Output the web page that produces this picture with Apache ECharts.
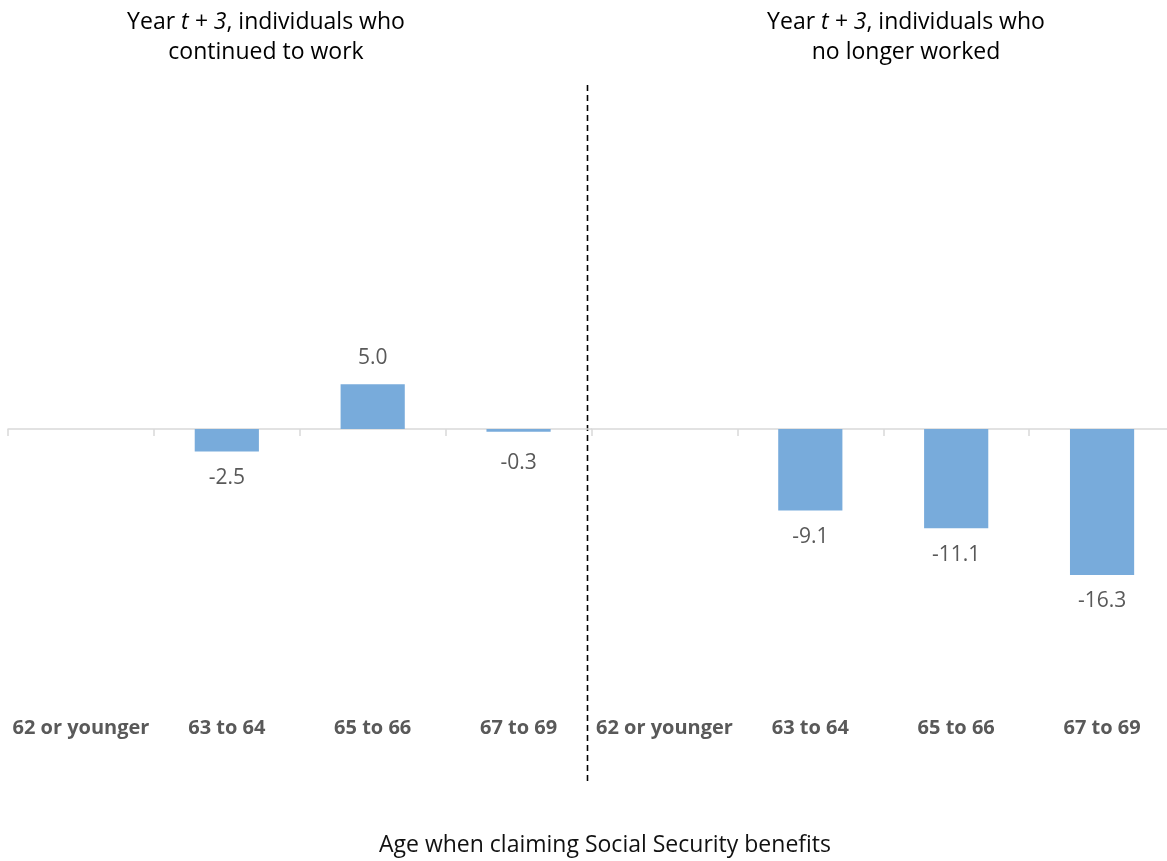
<!DOCTYPE html>
<html>
<head>
<meta charset="utf-8">
<script src="https://cdn.jsdelivr.net/npm/echarts@6/dist/echarts.min.js"></script>
<style>
  html, body { margin: 0; padding: 0; background: #fff; }
  #chart { width: 1167px; height: 861px; }
</style>
</head>
<body>
<div id="chart"></div>
<script>
// Age groups at claiming (same for both panels)
const ageGroups = ['62 or younger', '63 to 64', '65 to 66', '67 to 69'];
// Percent change, year t + 3, by panel (null = reference group, no bar)
const continuedWork = [null, -2.5, 5.0, -0.3];
const noLongerWorked = [null, -9.1, -11.1, -16.3];
const panelTitles = [
  { lead: 'Year ', italic: 't + 3', tail: ', individuals who', second: 'continued to work' },
  { lead: 'Year ', italic: 't + 3', tail: ', individuals who', second: 'no longer worked' }
];
const axisTitle = 'Age when claiming Social Security benefits';

const FONT = '"Open Sans", "Liberation Sans", sans-serif';
const BAR = '#78abdb';
const GREY = '#595959';

// Plot geometry
const yMin = -30, yMax = 10;
const plotTop = 339.5, plotHeight = 358;
const pxPerUnit = plotHeight / (yMax - yMin);
const panelLeft = [8, 591.5], panelWidth = 583.5;

function barData(values) {
  return values.map(v => {
    if (v === null) return null;
    // keep short bars' labels clear of the axis line
    const dist = Math.max(16, 24 - Math.abs(v) * pxPerUnit);
    return {
      value: v,
      label: { position: v >= 0 ? 'top' : 'bottom', distance: dist }
    };
  });
}

const chart = echarts.init(document.getElementById('chart'), null, { renderer: 'canvas' });

const grids = panelLeft.map(l => ({
  left: l, width: panelWidth, top: plotTop, height: plotHeight,
  outerBoundsMode: 'none', containLabel: false
}));

const xAxes = [];
const yAxes = [];
[0, 1].forEach(g => {
  // axis line at zero with category ticks
  xAxes.push({
    type: 'category', gridIndex: g, data: ageGroups,
    axisLine: { onZero: true, lineStyle: { color: '#d9d9d9', width: 1.5 } },
    axisTick: { show: true, length: 7, lineStyle: { color: '#d9d9d9', width: 1.5 } },
    axisLabel: { show: false },
    splitLine: { show: false }
  });
  // category labels along the bottom of the plot
  xAxes.push({
    type: 'category', gridIndex: g, data: ageGroups, position: 'bottom',
    axisLine: { show: false, onZero: false }, axisTick: { show: false },
    axisLabel: {
      show: true, interval: 0, hideOverlap: false, margin: 21,
      color: GREY, fontFamily: FONT, fontWeight: 'bold', fontSize: 20
    },
    splitLine: { show: false }
  });
  yAxes.push({
    type: 'value', gridIndex: g, min: yMin, max: yMax, interval: 10,
    show: false, splitLine: { show: false }
  });
});

const labelStyle = {
  show: true, color: GREY, fontFamily: FONT, fontSize: 21,
  formatter: p => p.value.toFixed(1)
};

const series = [continuedWork, noLongerWorked].map((vals, g) => ({
  type: 'bar',
  xAxisIndex: g * 2, yAxisIndex: g,
  barWidth: '44%',
  data: barData(vals),
  itemStyle: { color: BAR },
  label: labelStyle,
  silent: true
}));

const titleCenters = [261, 901];
const titles = panelTitles.map((t, i) => ({
  text: '{n|' + t.lead + '}{i|' + t.italic + '}{n|' + t.tail + '}\n{n|' + t.second + '}',
  left: titleCenters[i], top: 2, textAlign: 'center',
  textStyle: {
    fontWeight: 'normal',
    rich: {
      n: { fontFamily: FONT, fontSize: 23, fontWeight: 'normal', color: '#000', lineHeight: 30 },
      i: { fontFamily: FONT, fontSize: 23, fontWeight: 'normal', color: '#000', fontStyle: 'italic', lineHeight: 30 }
    }
  }
}));
titles.push({
  text: axisTitle, left: 600, top: 829, textAlign: 'center',
  textStyle: { fontFamily: FONT, fontSize: 23, fontWeight: 'normal', color: '#111' }
});

chart.setOption({
  animation: false,
  backgroundColor: '#fff',
  title: titles,
  grid: grids,
  xAxis: xAxes,
  yAxis: yAxes,
  series: series,
  graphic: [{
    // divider between the two panels
    type: 'line', silent: true,
    shape: { x1: 587.5, y1: 85, x2: 587.5, y2: 785 },
    style: { stroke: '#000', lineWidth: 1.6, lineDash: [6, 4] }
  }]
});
</script>
</body>
</html>
